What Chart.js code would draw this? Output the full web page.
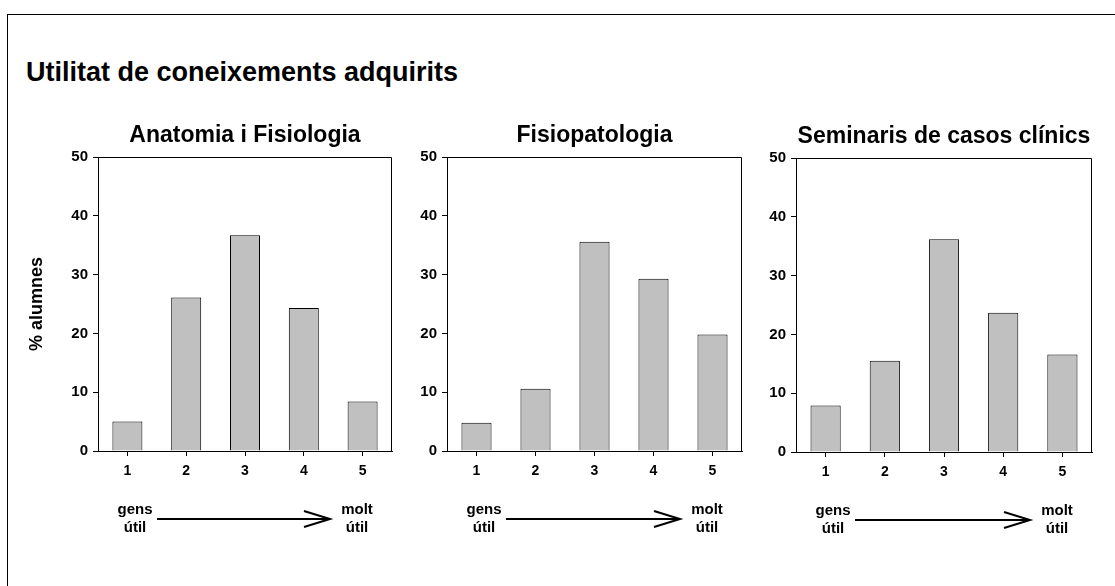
<!DOCTYPE html>
<html lang="ca">
<head>
<meta charset="utf-8">
<title>Utilitat de coneixements adquirits</title>
<script src="https://cdn.jsdelivr.net/npm/chart.js@4.4.1/dist/chart.umd.min.js"></script>
<style>
  html, body { margin: 0; padding: 0; background: #fff; }
  body {
    width: 1115px;
    height: 586px;
    overflow: hidden;
    position: relative;
    font-family: "Liberation Sans", Arial, sans-serif;
  }
  .marc {
    position: absolute;
    left: 7px;
    top: 14px;
    width: 1200px;
    height: 700px;
    border-left: 1px solid #000;
    border-top: 1px solid #000;
  }
  h1 {
    position: absolute;
    left: 26px;
    top: 57px;
    margin: 0;
    font-size: 27px;
    line-height: 30px;
    font-weight: bold;
    color: #000;
  }
  canvas { position: absolute; }
</style>
</head>
<body>
<div class="marc"></div>
<h1>Utilitat de coneixements adquirits</h1>
<canvas id="grafic1"></canvas>
<canvas id="grafic2"></canvas>
<canvas id="grafic3"></canvas>

<script>
// Dades llegides del gràfic (% d'alumnes per puntuació)
const categories = ["1", "2", "3", "4", "5"];
const anatomiaValues = [5.0, 26.1, 36.7, 24.3, 8.4];
const fisiopatologiaValues = [4.8, 10.6, 35.6, 29.3, 19.8];
const seminarisValues = [7.9, 15.5, 36.2, 23.7, 16.6];
const panelTitles = ["Anatomia i Fisiologia", "Fisiopatologia", "Seminaris de casos clínics"];
const yAxisTitle = "% alumnes";
const yMin = 0;
const yMax = 50;
const yStep = 10;
const scaleStartLabel = ["gens", "útil"];
const scaleEndLabel = ["molt", "útil"];

// Posició de cada àrea de dibuix a la pàgina
const plotBoxes = [
  { left: 98, top: 157, width: 294, height: 294 },
  { left: 447, top: 157, width: 295, height: 294 },
  { left: 796, top: 158, width: 296, height: 294 },
];
const AXIS_W = 78;
const RIGHT_PAD = 12;
const TOP_SPACE = 57;
const BOTTOM_SPACE = 100;
const FONT = "'Liberation Sans', Arial, sans-serif";

// Marc negre al voltant de l'àrea de dibuix (estil Excel)
const plotFrame = {
  id: "plotFrame",
  afterDatasetsDraw(chart) {
    const { left, top, right, bottom } = chart.chartArea;
    const ctx = chart.ctx;
    ctx.save();
    ctx.strokeStyle = "#000";
    ctx.lineWidth = 1;
    ctx.beginPath();
    ctx.moveTo(Math.round(left) + 0.5, Math.round(top) + 0.5);
    ctx.lineTo(Math.round(right) - 0.5, Math.round(top) + 0.5);
    ctx.lineTo(Math.round(right) - 0.5, Math.round(bottom) + 0.5);
    ctx.stroke();
    ctx.restore();
  },
};

// Fletxa "gens útil" -> "molt útil" sota l'eix
const usefulnessArrow = {
  id: "usefulnessArrow",
  afterDraw(chart) {
    const { left, right, bottom } = chart.chartArea;
    const ctx = chart.ctx;
    ctx.save();
    ctx.fillStyle = "#000";
    ctx.font = "bold 15px " + FONT;
    ctx.textAlign = "center";
    ctx.textBaseline = "middle";
    ctx.fillText(scaleStartLabel[0], left + 37, bottom + 59);
    ctx.fillText(scaleStartLabel[1], left + 37, bottom + 77);
    ctx.fillText(scaleEndLabel[0], right - 35, bottom + 59);
    ctx.fillText(scaleEndLabel[1], right - 35, bottom + 77);

    const y = bottom + 68;
    const x0 = left + 59;
    const x1 = right - 62;
    ctx.strokeStyle = "#000";
    ctx.lineWidth = 2;
    ctx.beginPath();
    ctx.moveTo(x0, y);
    ctx.lineTo(x1, y);
    ctx.moveTo(x1 - 26, y - 8);
    ctx.lineTo(x1, y);
    ctx.lineTo(x1 - 26, y + 8);
    ctx.stroke();
    ctx.restore();
  },
};

function createPanel(canvasId, title, values, box, showYTitle) {
  const canvas = document.getElementById(canvasId);
  const w = AXIS_W + box.width + RIGHT_PAD;
  const h = TOP_SPACE + box.height + BOTTOM_SPACE;
  canvas.width = w;
  canvas.height = h;
  canvas.style.width = w + "px";
  canvas.style.height = h + "px";
  canvas.style.left = box.left - AXIS_W + "px";
  canvas.style.top = box.top - TOP_SPACE + "px";

  const titleSize = 23;
  const titlePadBottom = 8;

  return new Chart(canvas.getContext("2d"), {
    type: "bar",
    data: {
      labels: categories,
      datasets: [
        {
          data: values,
          backgroundColor: "#c0c0c0",
          borderColor: "#000",
          borderWidth: 1,
          barPercentage: 0.51,
          categoryPercentage: 1,
        },
      ],
    },
    plugins: [plotFrame, usefulnessArrow],
    options: {
      responsive: false,
      animation: false,
      layout: {
        padding: {
          left: 0,
          right: RIGHT_PAD,
          top: TOP_SPACE - (titleSize * 1.2 + titlePadBottom),
          bottom: 0,
        },
      },
      scales: {
        x: {
          type: "category",
          afterFit: (scale) => {
            scale.height = BOTTOM_SPACE;
          },
          grid: {
            offset: false,
            drawOnChartArea: false,
            drawTicks: true,
            tickLength: 5,
            color: "#000",
          },
          border: { display: true, color: "#000", width: 1 },
          ticks: {
            color: "#000",
            padding: 7,
            font: { family: FONT, size: 14, weight: "bold" },
          },
        },
        y: {
          min: yMin,
          max: yMax,
          afterFit: (scale) => {
            scale.width = AXIS_W;
          },
          grid: {
            drawOnChartArea: false,
            drawTicks: true,
            tickLength: 5,
            color: "#000",
          },
          border: { display: true, color: "#000", width: 1 },
          ticks: {
            stepSize: yStep,
            color: "#000",
            padding: 5,
            font: { family: FONT, size: 15, weight: "bold" },
          },
          title: {
            display: showYTitle,
            text: yAxisTitle,
            color: "#000",
            padding: { top: 6, bottom: 0 },
            font: { family: FONT, size: 18, weight: "bold" },
          },
        },
      },
      plugins: {
        legend: { display: false },
        tooltip: { enabled: false },
        title: {
          display: true,
          text: title,
          fullSize: false,
          color: "#000",
          padding: { top: 0, bottom: titlePadBottom },
          font: { family: FONT, size: titleSize, weight: "bold" },
        },
      },
    },
  });
}

document.addEventListener("DOMContentLoaded", function () {
  createPanel("grafic1", panelTitles[0], anatomiaValues, plotBoxes[0], true);
  createPanel("grafic2", panelTitles[1], fisiopatologiaValues, plotBoxes[1], false);
  createPanel("grafic3", panelTitles[2], seminarisValues, plotBoxes[2], false);
});
</script>
</body>
</html>
